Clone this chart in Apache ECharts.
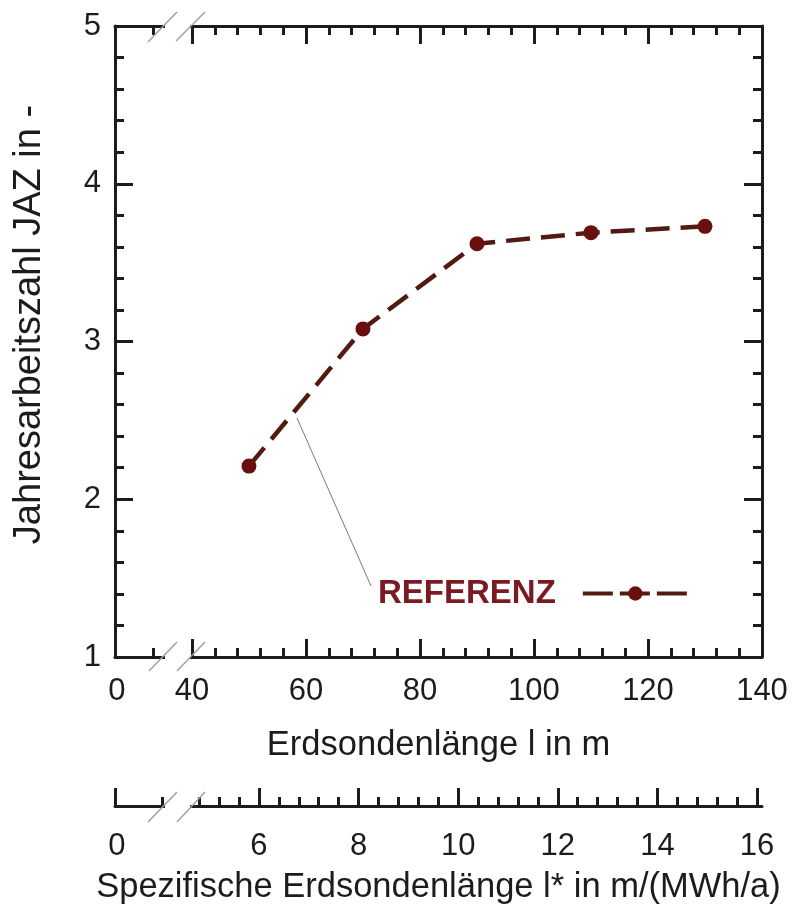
<!DOCTYPE html>
<html>
<head>
<meta charset="utf-8">
<script src="https://cdn.jsdelivr.net/npm/echarts@6/dist/echarts.min.js"></script>
<style>
  html, body { margin: 0; padding: 0; background: #fff; }
  #chart { width: 795px; height: 912px; }
</style>
</head>
<body>
<div id="chart"></div>
<script>
// Erdsondenlänge l (m) and Jahresarbeitszahl of the REFERENZ case
const erdsondenlaenge = [50, 70, 90, 110, 130];
const jazReferenz = [2.21, 3.08, 3.62, 3.69, 3.73];
const seriesName = 'REFERENZ';

// main x axis (l in m), broken between 0 and 40
const lTickLabels = ['0', '40', '60', '80', '100', '120', '140'];
const lLabelValues = [26.85, 40, 60, 80, 100, 120, 140];
const lMajorTicks = [40, 60, 80, 100, 120, 140];
const lMinorTicks = [33.2, 44, 48, 52, 56, 64, 68, 72, 76, 84, 88, 92, 96,
  104, 108, 112, 116, 124, 128, 132, 136];

// secondary x axis (l* in m/(MWh/a)), broken between 0 and ~4.5
const lsTickLabels = ['0', '6', '8', '10', '12', '14', '16'];
const lsLabelValues = [3.15, 6, 8, 10, 12, 14, 16];
const lsMajorTicks = [3.11, 6, 8, 10, 12, 14, 16];
const lsMinorTicks = [4.05, 4.8, 5.2, 5.6, 6.4, 6.8, 7.2, 7.6, 8.4, 8.8, 9.2, 9.6,
  10.4, 10.8, 11.2, 11.6, 12.4, 12.8, 13.2, 13.6, 14.4, 14.8, 15.2, 15.6];

const FONT = '"Liberation Sans", Arial, Helvetica, sans-serif';
const INK = '#1c1c1c';
const LINE_COLOR = '#521a10';
const MARK_COLOR = '#6a0f0f';
const LEGEND_TEXT = '#7a1a22';

function labelLookup(values, labels) {
  return function (v) {
    for (let i = 0; i < values.length; i++) {
      if (Math.abs(values[i] - v) < 1e-6) return labels[i];
    }
    return '';
  };
}

const axisLineStyle = { show: true, lineStyle: { color: INK, width: 3 } };
const noSplit = { show: false };

function tickAxis(gridIndex, position, min, max, ticks, length, extra) {
  return Object.assign({
    type: 'value',
    gridIndex: gridIndex,
    position: position,
    min: min,
    max: max,
    axisLine: { show: false },
    axisTick: { show: true, inside: true, length: length, customValues: ticks,
      lineStyle: { color: INK, width: 3 } },
    axisLabel: { show: false },
    splitLine: noSplit
  }, extra || {});
}

const chart = echarts.init(document.getElementById('chart'), null, { renderer: 'canvas' });

const lMin = 26.5, lMax = 140;
const lsMin = 3.11, lsMax = 16.1;

const option = {
  animation: false,
  backgroundColor: '#ffffff',
  textStyle: { fontFamily: FONT },
  grid: [
    { left: 115, top: 26, width: 647, height: 631, outerBoundsMode: 'none', containLabel: false },
    { left: 115, top: 796, width: 647, height: 10, outerBoundsMode: 'none', containLabel: false }
  ],
  xAxis: [
    // bottom axis of the plot: major ticks, labels and title
    tickAxis(0, 'bottom', lMin, lMax, lMajorTicks, 18, {
      axisLine: axisLineStyle,
      axisLabel: {
        show: true, customValues: lLabelValues,
        formatter: labelLookup(lLabelValues, lTickLabels),
        margin: 19, fontSize: 31, color: INK, fontFamily: FONT
      },
      name: 'Erdsondenlänge l in m',
      nameLocation: 'middle',
      nameGap: 71,
      nameTextStyle: { fontSize: 34.5, color: INK, fontFamily: FONT }
    }),
    tickAxis(0, 'bottom', lMin, lMax, lMinorTicks, 9),
    // top frame
    tickAxis(0, 'top', lMin, lMax, lMajorTicks, 18, { axisLine: axisLineStyle }),
    tickAxis(0, 'top', lMin, lMax, lMinorTicks, 9),
    // specific length axis below
    tickAxis(1, 'bottom', lsMin, lsMax, lsMajorTicks, 18, {
      axisLine: axisLineStyle,
      axisLabel: {
        show: true, customValues: lsLabelValues,
        formatter: labelLookup(lsLabelValues, lsTickLabels),
        margin: 25, fontSize: 31, color: INK, fontFamily: FONT
      },
      name: 'Spezifische Erdsondenlänge l* in m/(MWh/a)',
      nameLocation: 'middle',
      nameGap: 64,
      nameTextStyle: { fontSize: 34.5, color: INK, fontFamily: FONT }
    }),
    tickAxis(1, 'bottom', lsMin, lsMax, lsMinorTicks, 9)
  ],
  yAxis: [
    {
      type: 'value', gridIndex: 0, position: 'left',
      min: 1, max: 5, interval: 1,
      axisLine: axisLineStyle,
      axisTick: { show: true, inside: true, length: 18, lineStyle: { color: INK, width: 3 } },
      minorTick: { show: true, splitNumber: 5, length: 9, lineStyle: { color: INK, width: 3 } },
      axisLabel: { margin: 14, fontSize: 31, color: INK, fontFamily: FONT },
      splitLine: noSplit, minorSplitLine: noSplit,
      name: 'Jahresarbeitszahl JAZ in -',
      nameLocation: 'middle',
      nameGap: 66,
      nameTextStyle: { fontSize: 38, color: INK, fontFamily: FONT, padding: [0, 0, 0, 34] }
    },
    {
      type: 'value', gridIndex: 0, position: 'right',
      min: 1, max: 5, interval: 1,
      axisLine: axisLineStyle,
      axisTick: { show: true, inside: true, length: 18, lineStyle: { color: INK, width: 3 } },
      minorTick: { show: true, splitNumber: 5, length: 9, lineStyle: { color: INK, width: 3 } },
      axisLabel: { show: false },
      splitLine: noSplit, minorSplitLine: noSplit
    },
    { type: 'value', gridIndex: 1, show: false, min: 0, max: 1 }
  ],
  legend: {
    data: [seriesName],
    left: 378,
    top: 577,
    padding: 0,
    align: 'right',
    itemWidth: 105,
    itemHeight: 18,
    selectedMode: false,
    lineStyle: { width: 4, type: [30, 7], color: LINE_COLOR },
    textStyle: {
      color: LEGEND_TEXT, fontSize: 33, fontWeight: 'bold', fontFamily: FONT,
      padding: [0, 22, 0, 0]
    }
  },
  series: [
    {
      name: seriesName,
      type: 'line',
      xAxisIndex: 0,
      yAxisIndex: 0,
      data: erdsondenlaenge.map((l, i) => [l, jazReferenz[i]]),
      symbol: 'circle',
      symbolSize: 15,
      lineStyle: { color: LINE_COLOR, width: 4.5, type: [24, 11] },
      itemStyle: { color: MARK_COLOR },
      z: 5
    }
  ],
  graphic: [
    // gaps of the broken axes
    { type: 'rect', shape: { x: 165, y: 21, width: 25, height: 10 }, style: { fill: '#fff' }, z: 100 },
    { type: 'rect', shape: { x: 165, y: 652, width: 25, height: 10 }, style: { fill: '#fff' }, z: 100 },
    { type: 'rect', shape: { x: 165, y: 801, width: 25, height: 10 }, style: { fill: '#fff' }, z: 100 },
    // break marks
    { type: 'line', shape: { x1: 148, y1: 42, x2: 177, y2: 12 }, style: { stroke: '#a0a0a0', lineWidth: 1.5 }, z: 101 },
    { type: 'line', shape: { x1: 176, y1: 41, x2: 205, y2: 12 }, style: { stroke: '#a0a0a0', lineWidth: 1.5 }, z: 101 },
    { type: 'line', shape: { x1: 149, y1: 671, x2: 177, y2: 642 }, style: { stroke: '#a0a0a0', lineWidth: 1.5 }, z: 101 },
    { type: 'line', shape: { x1: 177, y1: 671, x2: 205, y2: 642 }, style: { stroke: '#a0a0a0', lineWidth: 1.5 }, z: 101 },
    { type: 'line', shape: { x1: 148, y1: 822, x2: 177, y2: 792 }, style: { stroke: '#a0a0a0', lineWidth: 1.5 }, z: 101 },
    { type: 'line', shape: { x1: 177, y1: 822, x2: 205, y2: 792 }, style: { stroke: '#a0a0a0', lineWidth: 1.5 }, z: 101 },
    // leader from the curve to the series label
    { type: 'line', shape: { x1: 297, y1: 418, x2: 371, y2: 586 }, style: { stroke: '#7a7a7a', lineWidth: 1 }, z: 50 }
  ]
};

chart.setOption(option);
</script>
</body>
</html>
